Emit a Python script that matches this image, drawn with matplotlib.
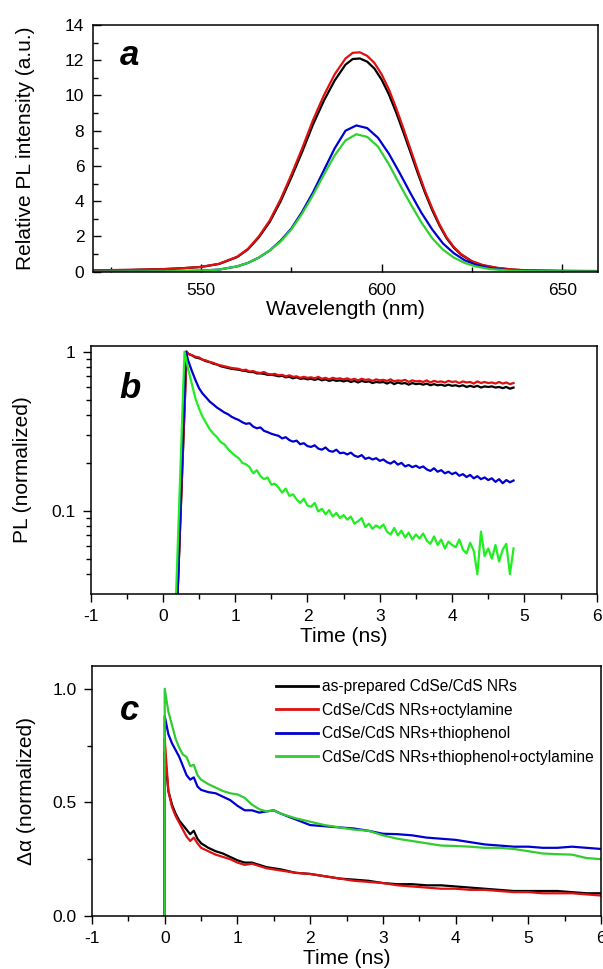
import numpy as np
import matplotlib
matplotlib.use("Agg")
import matplotlib.pyplot as plt
from matplotlib.ticker import MultipleLocator, FixedLocator, NullFormatter, FixedFormatter, FuncFormatter

plt.rcParams['font.family'] = ['Liberation Sans', 'DejaVu Sans']

# ---------------- Panel a data: PL spectra ----------------
wl_red = [520, 530, 540, 545, 550, 555, 560, 563, 566, 569, 572, 575, 578, 581, 584, 587,
          590, 592, 594, 596, 598, 600, 602, 604, 606, 608, 610, 612, 614, 616, 618, 620,
          622, 625, 628, 632, 636, 640, 650, 660]
pl_red = [0.08, 0.10, 0.15, 0.20, 0.27, 0.45, 0.85, 1.3, 2.0, 2.9, 4.1, 5.5, 7.0, 8.6, 10.0, 11.2,
          12.1, 12.42, 12.45, 12.25, 11.85, 11.2, 10.35, 9.3, 8.15, 6.95, 5.75, 4.6, 3.6, 2.7, 1.95, 1.4,
          1.0, 0.6, 0.38, 0.22, 0.13, 0.08, 0.05, 0.04]
pl_black = [0.08, 0.10, 0.15, 0.20, 0.27, 0.44, 0.83, 1.27, 1.95, 2.82, 3.98, 5.35, 6.8, 8.35, 9.7, 10.85,
            11.75, 12.07, 12.1, 11.92, 11.53, 10.9, 10.07, 9.05, 7.93, 6.77, 5.6, 4.49, 3.5, 2.63, 1.9, 1.36,
            0.97, 0.58, 0.36, 0.21, 0.12, 0.07, 0.04, 0.03]
wl_bg = [520, 540, 550, 555, 560, 563, 566, 569, 572, 575, 578, 581, 584, 587, 590, 593,
         596, 599, 602, 605, 608, 611, 614, 617, 620, 623, 626, 630, 635, 640, 660]
pl_blue = [0.0, 0.02, 0.06, 0.12, 0.3, 0.5, 0.8, 1.2, 1.75, 2.45, 3.4, 4.5, 5.75, 7.0, 8.0, 8.3,
           8.15, 7.6, 6.7, 5.6, 4.45, 3.35, 2.4, 1.6, 1.05, 0.65, 0.4, 0.2, 0.09, 0.04, 0.01]
pl_green = [0.0, 0.02, 0.06, 0.12, 0.3, 0.5, 0.8, 1.2, 1.7, 2.4, 3.3, 4.35, 5.5, 6.6, 7.45, 7.8,
            7.65, 7.1, 6.1, 4.95, 3.85, 2.8, 1.9, 1.25, 0.8, 0.5, 0.3, 0.15, 0.07, 0.03, 0.01]

# ---------------- Panel b data: PL decays (log) ----------------
tb = np.round(np.linspace(0.35, 4.85, 91), 2)
b_red = [0.97, 0.95, 0.93, 0.92, 0.89, 0.88, 0.86, 0.85, 0.83, 0.82, 0.81, 0.80, 0.79, 0.785,
         0.78, 0.765, 0.77, 0.75, 0.755, 0.74, 0.735, 0.745, 0.725, 0.72,
         0.725, 0.71, 0.715, 0.70, 0.71, 0.695, 0.70, 0.685, 0.695, 0.685,
         0.69, 0.68, 0.695, 0.675, 0.685, 0.67, 0.685, 0.675, 0.68, 0.67,
         0.68, 0.665, 0.675, 0.66, 0.675, 0.665, 0.67, 0.655, 0.67, 0.66,
         0.665, 0.655, 0.67, 0.65, 0.66, 0.655, 0.665, 0.645, 0.66, 0.65,
         0.655, 0.645, 0.66, 0.64, 0.655, 0.645, 0.65, 0.64, 0.655, 0.645,
         0.65, 0.635, 0.65, 0.64, 0.645, 0.63, 0.65, 0.635, 0.645, 0.635,
         0.64, 0.63, 0.645, 0.63, 0.64, 0.625, 0.635]
b_black = [0.97, 0.95, 0.92, 0.91, 0.89, 0.87, 0.86, 0.84, 0.83, 0.81, 0.80, 0.79, 0.78, 0.775,
           0.77, 0.76, 0.755, 0.745, 0.745, 0.73, 0.73, 0.725, 0.715, 0.715,
           0.71, 0.70, 0.705, 0.69, 0.695, 0.68, 0.69, 0.675, 0.68, 0.67,
           0.675, 0.665, 0.675, 0.66, 0.67, 0.655, 0.665, 0.655, 0.66, 0.65,
           0.66, 0.645, 0.655, 0.64, 0.655, 0.645, 0.65, 0.635, 0.645, 0.64,
           0.645, 0.63, 0.645, 0.625, 0.64, 0.63, 0.635, 0.62, 0.635, 0.625,
           0.63, 0.62, 0.63, 0.615, 0.625, 0.615, 0.62, 0.61, 0.62, 0.61,
           0.615, 0.605, 0.615, 0.60, 0.61, 0.60, 0.61, 0.595, 0.605, 0.60,
           0.605, 0.595, 0.60, 0.59, 0.60, 0.585, 0.595]
b_blue = [0.88, 0.76, 0.665, 0.59, 0.545, 0.515, 0.485, 0.465, 0.445, 0.43, 0.415, 0.405, 0.39, 0.38,
          0.372, 0.36, 0.352, 0.355, 0.338, 0.33, 0.334, 0.318, 0.312, 0.305,
          0.30, 0.296, 0.285, 0.29, 0.278, 0.272, 0.276, 0.262, 0.266, 0.255,
          0.252, 0.258, 0.246, 0.242, 0.25, 0.238, 0.235, 0.242, 0.23, 0.232,
          0.226, 0.232, 0.222, 0.218, 0.224, 0.212, 0.216, 0.21, 0.214, 0.206,
          0.21, 0.202, 0.198, 0.205, 0.195, 0.20, 0.19, 0.194, 0.188, 0.192,
          0.186, 0.19, 0.182, 0.178, 0.185, 0.176, 0.18, 0.172, 0.176, 0.17,
          0.174, 0.166, 0.17, 0.163, 0.168, 0.16, 0.165, 0.158, 0.162, 0.156,
          0.16, 0.152, 0.158, 0.149, 0.156, 0.151, 0.155]
b_green = [0.78, 0.63, 0.51, 0.44, 0.39, 0.355, 0.325, 0.305, 0.29, 0.27, 0.262, 0.245, 0.232, 0.222,
           0.214, 0.20, 0.196, 0.188, 0.172, 0.18, 0.165, 0.158, 0.162, 0.146,
           0.148, 0.14, 0.13, 0.138, 0.124, 0.127, 0.118, 0.112, 0.119, 0.108,
           0.106, 0.112, 0.099, 0.103, 0.095, 0.101, 0.092, 0.097, 0.09, 0.094,
           0.088, 0.092, 0.083, 0.086, 0.09, 0.079, 0.083, 0.077, 0.081, 0.078,
           0.082, 0.074, 0.071, 0.078, 0.07, 0.075, 0.068, 0.073, 0.066, 0.071,
           0.067, 0.072, 0.065, 0.062, 0.069, 0.061, 0.066, 0.058, 0.064, 0.061,
           0.059, 0.066, 0.057, 0.054, 0.063, 0.056, 0.04, 0.074, 0.052, 0.058,
           0.05, 0.061, 0.048, 0.057, 0.062, 0.04, 0.058]
# rising edge (onset time, peak time) for each decay
rise_red = ([0.19, 0.33], [0.02, 1.0])
rise_black = ([0.19, 0.33], [0.02, 1.0])
rise_blue = ([0.19, 0.32], [0.02, 1.0])
rise_green = ([0.17, 0.30], [0.02, 1.0])

# ---------------- Panel c data: transient absorption ----------------
tc = [0, 0, 0.05, 0.1, 0.15, 0.2, 0.25, 0.3, 0.35, 0.4, 0.45, 0.5, 0.6, 0.7, 0.8, 0.9, 1.0,
      1.1, 1.2, 1.3, 1.4, 1.5, 1.6, 1.8, 2.0, 2.2, 2.4, 2.6, 2.8, 3.0, 3.2, 3.4, 3.6, 3.8,
      4.0, 4.2, 4.4, 4.6, 4.8, 5.0, 5.2, 5.4, 5.6, 5.8, 6.0]
c_black = [0, 0.72, 0.55, 0.49, 0.45, 0.42, 0.40, 0.38, 0.36, 0.375, 0.34, 0.32,
           0.30, 0.285, 0.275, 0.26, 0.245, 0.235, 0.235, 0.225, 0.215, 0.21, 0.205,
           0.19, 0.185, 0.175, 0.165, 0.16, 0.155, 0.145, 0.14, 0.14, 0.135, 0.135, 0.13,
           0.125, 0.12, 0.115, 0.11, 0.11, 0.11, 0.11, 0.105, 0.10, 0.10]
c_red = [0, 0.78, 0.55, 0.48, 0.44, 0.41, 0.38, 0.35, 0.33, 0.345, 0.32, 0.30,
         0.285, 0.27, 0.26, 0.25, 0.235, 0.225, 0.23, 0.22, 0.21, 0.205, 0.20,
         0.19, 0.185, 0.175, 0.165, 0.155, 0.15, 0.145, 0.135, 0.13, 0.125, 0.12, 0.12,
         0.115, 0.115, 0.11, 0.105, 0.105, 0.10, 0.10, 0.10, 0.095, 0.09]
c_blue = [0, 0.88, 0.80, 0.76, 0.73, 0.70, 0.66, 0.62, 0.60, 0.61, 0.57, 0.555,
          0.545, 0.54, 0.525, 0.51, 0.485, 0.465, 0.465, 0.455, 0.46, 0.465, 0.45,
          0.425, 0.40, 0.395, 0.39, 0.385, 0.375, 0.362, 0.36, 0.355, 0.345, 0.34, 0.335,
          0.325, 0.315, 0.31, 0.305, 0.305, 0.30, 0.30, 0.305, 0.30, 0.295]
c_green = [0, 1.0, 0.90, 0.84, 0.78, 0.74, 0.71, 0.70, 0.66, 0.665, 0.62, 0.60,
           0.58, 0.565, 0.55, 0.54, 0.535, 0.52, 0.49, 0.47, 0.46, 0.465, 0.45,
           0.43, 0.415, 0.40, 0.39, 0.38, 0.375, 0.355, 0.34, 0.33, 0.32, 0.31, 0.308,
           0.305, 0.30, 0.30, 0.295, 0.285, 0.275, 0.272, 0.27, 0.255, 0.25]

legend_labels = ["as-prepared CdSe/CdS NRs", "CdSe/CdS NRs+octylamine",
                 "CdSe/CdS NRs+thiophenol", "CdSe/CdS NRs+thiophenol+octylamine"]

C_BLACK = '#000000'
C_RED = '#e01010'
C_BLUE = '#0000d0'
C_GREEN_A = '#30d030'
C_GREEN_B = '#20ee20'
C_GREEN_C = '#30cc30'
LW = 1.6

W, H = 603, 969
fig = plt.figure(figsize=(W / 100, H / 100), dpi=100)


def px_axes(l, r, t, b):
    return fig.add_axes([l / W, 1 - b / H, (r - l) / W, (b - t) / H])


TICK_FS = 12.5
LABEL_FS = 15

# ---------- a ----------
axa = px_axes(92.7, 598.3, 25, 271.7)
axa.plot(wl_red, pl_black, color=C_BLACK, lw=LW)
axa.plot(wl_red, pl_red, color=C_RED, lw=LW)
axa.plot(wl_bg, pl_blue, color=C_BLUE, lw=LW)
axa.plot(wl_bg, pl_green, color=C_GREEN_A, lw=LW)
axa.set_xlim(520, 660)
axa.set_ylim(0, 14)
axa.xaxis.set_major_locator(FixedLocator([550, 600, 650]))
axa.xaxis.set_minor_locator(FixedLocator([525, 575, 625]))
axa.yaxis.set_major_locator(MultipleLocator(2))
axa.yaxis.set_minor_locator(MultipleLocator(1))
axa.tick_params(which='both', direction='in', top=False, right=False, labelsize=TICK_FS, width=1)
axa.tick_params(which='major', length=6)
axa.tick_params(which='minor', length=3.5)
axa.tick_params(axis='y', pad=6)
axa.tick_params(axis='x', pad=8)
axa.set_xlabel("Wavelength (nm)", fontsize=LABEL_FS)
axa.set_ylabel("Relative PL intensity (a.u.)", fontsize=LABEL_FS)
axa.xaxis.set_label_coords(0.5, -0.115)
axa.yaxis.set_label_coords(-0.115, 0.5)
axa.text(0.054, 0.838, "a", transform=axa.transAxes, fontsize=25, fontweight='bold',
         fontstyle='italic', va='baseline', ha='left')

# ---------- b ----------
axb = px_axes(90.5, 596.7, 345.7, 594)
for (rt, rv), vals, col in [(rise_black, b_black, C_BLACK), (rise_red, b_red, C_RED),
                            (rise_blue, b_blue, C_BLUE), (rise_green, b_green, C_GREEN_B)]:
    axb.plot(list(rt) + list(tb), list(rv) + list(vals), color=col, lw=LW)
axb.set_yscale('log')
axb.set_xlim(-1, 6)
axb.set_ylim(0.03, 1.09)
axb.xaxis.set_major_locator(MultipleLocator(1))
axb.xaxis.set_minor_locator(MultipleLocator(0.5))
axb.xaxis.set_major_formatter(FuncFormatter(lambda v, p: "%d" % round(v)))
axb.yaxis.set_major_locator(FixedLocator([0.1, 1]))
axb.yaxis.set_major_formatter(FixedFormatter(["0.1", "1"]))
axb.yaxis.set_minor_locator(FixedLocator([0.04, 0.05, 0.06, 0.07, 0.08, 0.09,
                                          0.2, 0.3, 0.4, 0.5, 0.6, 0.7, 0.8, 0.9]))
axb.yaxis.set_minor_formatter(NullFormatter())
axb.tick_params(which='both', direction='out', top=False, right=False, labelsize=TICK_FS, width=1)
axb.tick_params(which='major', length=6)
axb.tick_params(which='minor', length=3.5)
axb.tick_params(axis='both', pad=5)
axb.set_xlabel("Time (ns)", fontsize=LABEL_FS)
axb.set_ylabel("PL (normalized)", fontsize=LABEL_FS)
axb.xaxis.set_label_coords(0.5, -0.133)
axb.yaxis.set_label_coords(-0.115, 0.5)
axb.text(0.058, 0.79, "b", transform=axb.transAxes, fontsize=25, fontweight='bold',
         fontstyle='italic', va='baseline', ha='left')

# ---------- c ----------
axc = px_axes(92, 601, 666, 916)
cols = [C_BLACK, C_RED, C_BLUE, C_GREEN_C]
for vals, col, lab in zip([c_black, c_red, c_blue, c_green], cols, legend_labels):
    axc.plot(tc, vals, color=col, lw=LW, label=lab)
axc.set_xlim(-1, 6)
axc.set_ylim(0, 1.1)
axc.xaxis.set_major_locator(MultipleLocator(1))
axc.xaxis.set_minor_locator(MultipleLocator(0.5))
axc.yaxis.set_major_locator(FixedLocator([0.0, 0.5, 1.0]))
axc.yaxis.set_major_formatter(FixedFormatter(["0.0", "0.5", "1.0"]))
axc.yaxis.set_minor_locator(FixedLocator([0.25, 0.75]))
axc.xaxis.set_major_formatter(FuncFormatter(lambda v, p: "%d" % round(v)))
axc.tick_params(which='both', direction='out', top=False, right=False, labelsize=TICK_FS, width=1)
axc.tick_params(which='major', length=6)
axc.tick_params(which='minor', length=3.5)
axc.tick_params(axis='both', pad=5)
axc.set_xlabel("Time (ns)", fontsize=LABEL_FS)
axc.set_ylabel("Δα (normalized)", fontsize=LABEL_FS)
axc.xaxis.set_label_coords(0.5, -0.132)
axc.yaxis.set_label_coords(-0.11, 0.5)
axc.text(0.054, 0.784, "c", transform=axc.transAxes, fontsize=25, fontweight='bold',
         fontstyle='italic', va='baseline', ha='left')
leg = axc.legend(loc='upper left', bbox_to_anchor=(0.362, 0.948), frameon=False,
                 fontsize=11.2, handlelength=2.7, handletextpad=0.25, labelspacing=0.55,
                 borderpad=0, borderaxespad=0)
for ln in leg.get_lines():
    ln.set_linewidth(2)

for ax in (axa, axb, axc):
    for s in ax.spines.values():
        s.set_linewidth(1.1)

fig.savefig("out.png", dpi=100)
